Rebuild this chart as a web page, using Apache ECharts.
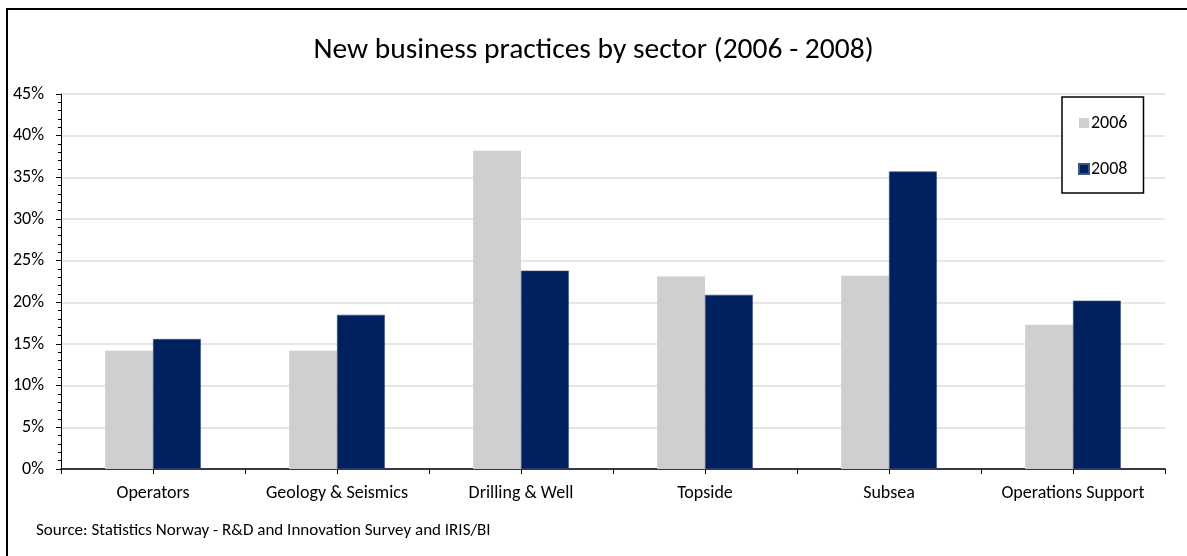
<!DOCTYPE html>
<html>
<head>
<meta charset="utf-8">
<title>New business practices by sector (2006 - 2008)</title>
<script src="https://cdn.jsdelivr.net/npm/echarts@6/dist/echarts.min.js"></script>
<style>
  html, body { margin: 0; padding: 0; background: #fff; }
  #chart { width: 1187px; height: 556px; }
</style>
</head>
<body>
<div id="chart"></div>
<script>
// Sectors along the x axis
const sectors = ['Operators', 'Geology & Seismics', 'Drilling & Well', 'Topside', 'Subsea', 'Operations Support'];
// Share of firms introducing new business practices (%)
const values2006 = [14.2, 14.2, 38.2, 23.1, 23.2, 17.3];
const values2008 = [15.6, 18.5, 23.8, 20.9, 35.7, 20.2];
const seriesNames = ['2006', '2008'];
const yTicks = [0, 5, 10, 15, 20, 25, 30, 35, 40, 45];

const FONT = 'Carlito, Lato, "Open Sans", sans-serif';

const chart = echarts.init(document.getElementById('chart'), null, { renderer: 'canvas' });

chart.setOption({
  backgroundColor: '#ffffff',
  animation: false,
  title: {
    text: 'New business practices by sector (2006 - 2008)',
    left: 'center',
    top: 31,
    textStyle: { fontFamily: FONT, fontSize: 29.5, fontWeight: 'normal', color: '#000' }
  },
  legend: {
    orient: 'vertical',
    left: 1062,
    top: 97,
    data: seriesNames,
    icon: 'rect',
    itemWidth: 10,
    itemHeight: 10,
    itemGap: 28,
    padding: [17, 16, 15, 16],
    borderColor: '#000',
    borderWidth: 1.5,
    backgroundColor: '#fff',
    textStyle: { fontFamily: FONT, fontSize: 18, color: '#000', lineHeight: 18, padding: [0, 0, 0, -3] }
  },
  grid: { left: 61, right: 22, top: 94, bottom: 87, containLabel: false },
  xAxis: [
    {
      type: 'category',
      data: sectors,
      boundaryGap: true,
      axisLine: { show: true, lineStyle: { color: '#000', width: 1.5 } },
      axisTick: { show: true, alignWithLabel: false, length: 5, lineStyle: { color: '#000', width: 1 } },
      axisLabel: { interval: 0, hideOverlap: false, margin: 15, fontFamily: FONT, fontSize: 18, color: '#000' },
      splitLine: { show: false }
    },
    {
      // center ticks between the paired bars
      type: 'category',
      data: sectors,
      position: 'bottom',
      boundaryGap: true,
      axisLine: { show: false },
      axisTick: { show: true, interval: 0, alignWithLabel: true, length: 5, lineStyle: { color: '#000', width: 1 } },
      axisLabel: { show: false, interval: 0 },
      splitLine: { show: false }
    }
  ],
  yAxis: {
    type: 'value',
    min: yTicks[0],
    max: yTicks[yTicks.length - 1],
    interval: 5,
    axisLine: { show: true, lineStyle: { color: '#000', width: 1 } },
    axisTick: { show: true, length: 5, lineStyle: { color: '#000' } },
    minorTick: { show: true, splitNumber: 5, length: 3, lineStyle: { color: '#000' } },
    axisLabel: {
      margin: 17,
      fontFamily: FONT, fontSize: 18, color: '#000',
      formatter: v => v + '%'
    },
    splitLine: { show: true, lineStyle: { color: '#dedede', width: 1.5 } }
  },
  series: [
    {
      name: seriesNames[0],
      type: 'bar',
      data: values2006,
      barGap: '0%',
      barCategoryGap: '48%',
      itemStyle: { color: '#d0cece' }
    },
    {
      name: seriesNames[1],
      type: 'bar',
      data: values2008,
      barGap: '0%',
      barCategoryGap: '48%',
      itemStyle: { color: '#00205f', borderColor: '#3d5585', borderWidth: 0.6 }
    }
  ],
  graphic: [
    // chart frame (top and left edges)
    { type: 'line', shape: { x1: 7, y1: 9, x2: 1187, y2: 9 }, style: { stroke: '#000', lineWidth: 2 } },
    { type: 'line', shape: { x1: 7, y1: 8, x2: 7, y2: 556 }, style: { stroke: '#000', lineWidth: 2 } },
    {
      type: 'text',
      left: 36,
      top: 522,
      style: {
        text: 'Source: Statistics Norway - R&D and Innovation Survey and IRIS/BI',
        fontFamily: FONT, fontSize: 17, fill: '#000'
      }
    }
  ]
});
</script>
</body>
</html>
